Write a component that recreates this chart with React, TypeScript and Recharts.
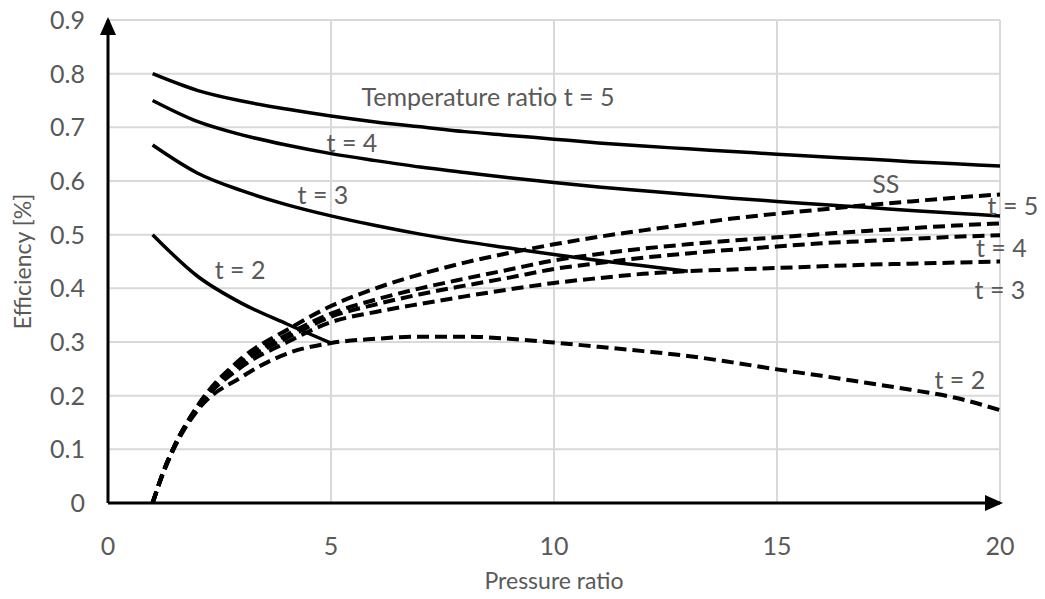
import React from 'react';
import { LineChart, Line, XAxis, YAxis, CartesianGrid, ReferenceDot, Label } from 'recharts';

// Pressure ratios at which the simple-cycle (dashed) curves are read
const pressureRatios = [1, 1.25, 1.5, 2, 3, 4, 5, 6, 7, 8, 9, 10, 11, 12, 13, 14, 15, 16, 17, 18, 19, 20];
// Dashed curves (simple cycle)
const simpleSS = [0, 0.06, 0.108, 0.18, 0.27, 0.322, 0.367, 0.4, 0.426, 0.448, 0.466, 0.482, 0.496, 0.508, 0.519, 0.53, 0.539, 0.547, 0.555, 0.562, 0.569, 0.575];
const simpleT5 = [0, 0.06, 0.108, 0.179, 0.265, 0.313, 0.353, 0.379, 0.4, 0.418, 0.435, 0.452, 0.464, 0.474, 0.482, 0.489, 0.495, 0.501, 0.507, 0.512, 0.517, 0.521];
const simpleT4 = [0, 0.06, 0.108, 0.178, 0.261, 0.307, 0.347, 0.37, 0.389, 0.405, 0.42, 0.436, 0.447, 0.457, 0.465, 0.472, 0.478, 0.484, 0.488, 0.492, 0.496, 0.499];
const simpleT3 = [0, 0.06, 0.107, 0.176, 0.254, 0.299, 0.337, 0.356, 0.371, 0.385, 0.398, 0.41, 0.419, 0.427, 0.432, 0.435, 0.438, 0.441, 0.444, 0.446, 0.448, 0.45];
const simpleT2 = [0, 0.058, 0.105, 0.172, 0.235, 0.278, 0.298, 0.306, 0.31, 0.31, 0.306, 0.299, 0.291, 0.283, 0.274, 0.262, 0.249, 0.237, 0.224, 0.211, 0.196, 0.173];

// Solid curves (regenerative cycle), read at integer pressure ratios
const solidRatios = [1, 2, 3, 4, 5, 6, 7, 8, 9, 10, 11, 12, 13, 14, 15, 16, 17, 18, 19, 20];
const regenT5 = [0.8, 0.769, 0.749, 0.734, 0.721, 0.71, 0.701, 0.692, 0.685, 0.678, 0.671, 0.665, 0.66, 0.655, 0.65, 0.645, 0.641, 0.636, 0.632, 0.628];
const regenT4 = [0.75, 0.711, 0.686, 0.667, 0.651, 0.638, 0.626, 0.616, 0.606, 0.597, 0.589, 0.582, 0.575, 0.568, 0.562, 0.556, 0.551, 0.545, 0.54, 0.535];
const regenT3 = [0.667, 0.615, 0.582, 0.556, 0.535, 0.517, 0.501, 0.487, 0.475, 0.463, 0.452, 0.442, 0.432];
const regenT2 = [0.5, 0.423, 0.372, 0.334, 0.298];

const xTicks = [0, 5, 10, 15, 20];
const yTicks = [0, 0.1, 0.2, 0.3, 0.4, 0.5, 0.6, 0.7, 0.8, 0.9];

const annotationTexts = ['Temperature ratio t = 5', 't = 4', 't = 3', 't = 2', 'SS', 't = 5', 't = 4', 't = 3', 't = 2'];
const annotationX = [8.52, 5.47, 4.82, 2.96, 17.44, 20.29, 20.03, 20.0, 19.1];
const annotationY = [0.756, 0.671, 0.574, 0.434, 0.594, 0.553, 0.475, 0.397, 0.229];

const pick = (arr: number[], p: number) => {
  const j = solidRatios.indexOf(p);
  if (j < 0) return null;
  const v = arr[j];
  return v === undefined ? null : v;
};

const table = pressureRatios.map((p, i) => ({
  p,
  ss: simpleSS[i],
  d5: simpleT5[i],
  d4: simpleT4[i],
  d3: simpleT3[i],
  d2: simpleT2[i],
  s5: pick(regenT5, p),
  s4: pick(regenT4, p),
  s3: pick(regenT3, p),
  s2: pick(regenT2, p),
}));

const FONT = 'Lato, "Open Sans", sans-serif';
const TXT = '#595959';
const FS = 25;
const TITLE_FS = 23;

export default function App() {
  const dashedProps = {
    type: 'monotone' as const,
    stroke: '#000',
    strokeWidth: 4,
    strokeDasharray: '12 6',
    dot: false,
    activeDot: false,
    isAnimationActive: false,
    connectNulls: true,
  };
  const solidProps = {
    type: 'monotone' as const,
    stroke: '#000',
    strokeWidth: 3.5,
    dot: false,
    activeDot: false,
    isAnimationActive: false,
    connectNulls: true,
  };
  return (
    <div style={{ position: 'relative', width: 1045, height: 599, margin: -8 }}>
      <svg width={0} height={0} style={{ position: 'absolute' }}>
        <defs>
          <marker id="arrowHead" viewBox="0 0 18 16" refX={15} refY={8} markerWidth={18} markerHeight={16}
            markerUnits="userSpaceOnUse" orient="auto-start-reverse">
            <path d="M0,0 L18,8 L0,16 Z" fill="#000" />
          </marker>
        </defs>
      </svg>
      <LineChart width={1045} height={599} data={table} margin={{ top: 20, right: 45, bottom: 36, left: 8 }}>
        <CartesianGrid stroke="#d9d9d9" strokeWidth={2} vertical={true} horizontal={true} />
        <XAxis
          dataKey="p"
          type="number"
          domain={[0, 20]}
          ticks={xTicks}
          allowDataOverflow
          height={60}
          tickLine={false}
          tickSize={6}
          tickMargin={28}
          axisLine={{ stroke: '#000', strokeWidth: 3, markerEnd: 'url(#arrowHead)' }}
          tick={{ fill: TXT, fontSize: FS, fontFamily: FONT }}
        >
          <Label
            content={(props: any) => {
              const vb = props.viewBox || {};
              return (
                <text x={vb.x + vb.width / 2} y={vb.y + 86} textAnchor="middle" fill={TXT} fontSize={TITLE_FS} fontFamily={FONT}>
                  Pressure ratio
                </text>
              );
            }}
          />
        </XAxis>
        <YAxis
          type="number"
          domain={[0, 0.9]}
          ticks={yTicks}
          allowDataOverflow
          width={100}
          tickLine={false}
          tickSize={6}
          tickMargin={17}
          axisLine={{ stroke: '#000', strokeWidth: 3, markerStart: 'url(#arrowHead)' }}
          tick={{ fill: TXT, fontSize: FS, fontFamily: FONT }}
        >
          <Label
            content={(props: any) => {
              const vb = props.viewBox || {};
              const cx = 22;
              const cy = vb.y + vb.height / 2;
              return (
                <text x={cx} y={cy} textAnchor="middle" dominantBaseline="central" fill={TXT} fontSize={TITLE_FS} fontFamily={FONT}
                  transform={`rotate(-90, ${cx}, ${cy})`}>
                  Efficiency [%]
                </text>
              );
            }}
          />
        </YAxis>
        <Line dataKey="ss" {...dashedProps} />
        <Line dataKey="d5" {...dashedProps} />
        <Line dataKey="d4" {...dashedProps} />
        <Line dataKey="d3" {...dashedProps} />
        <Line dataKey="d2" {...dashedProps} />
        <Line dataKey="s5" {...solidProps} />
        <Line dataKey="s4" {...solidProps} />
        <Line dataKey="s3" {...solidProps} />
        <Line dataKey="s2" {...solidProps} />
        {annotationTexts.map((t, i) => (
          <ReferenceDot
            key={i}
            x={annotationX[i]}
            y={annotationY[i]}
            r={0}
            fill="none"
            stroke="none"
            ifOverflow="visible"
            label={{ value: t, position: 'center', fill: TXT, fontSize: FS, fontFamily: FONT }}
          />
        ))}
      </LineChart>
    </div>
  );
}
